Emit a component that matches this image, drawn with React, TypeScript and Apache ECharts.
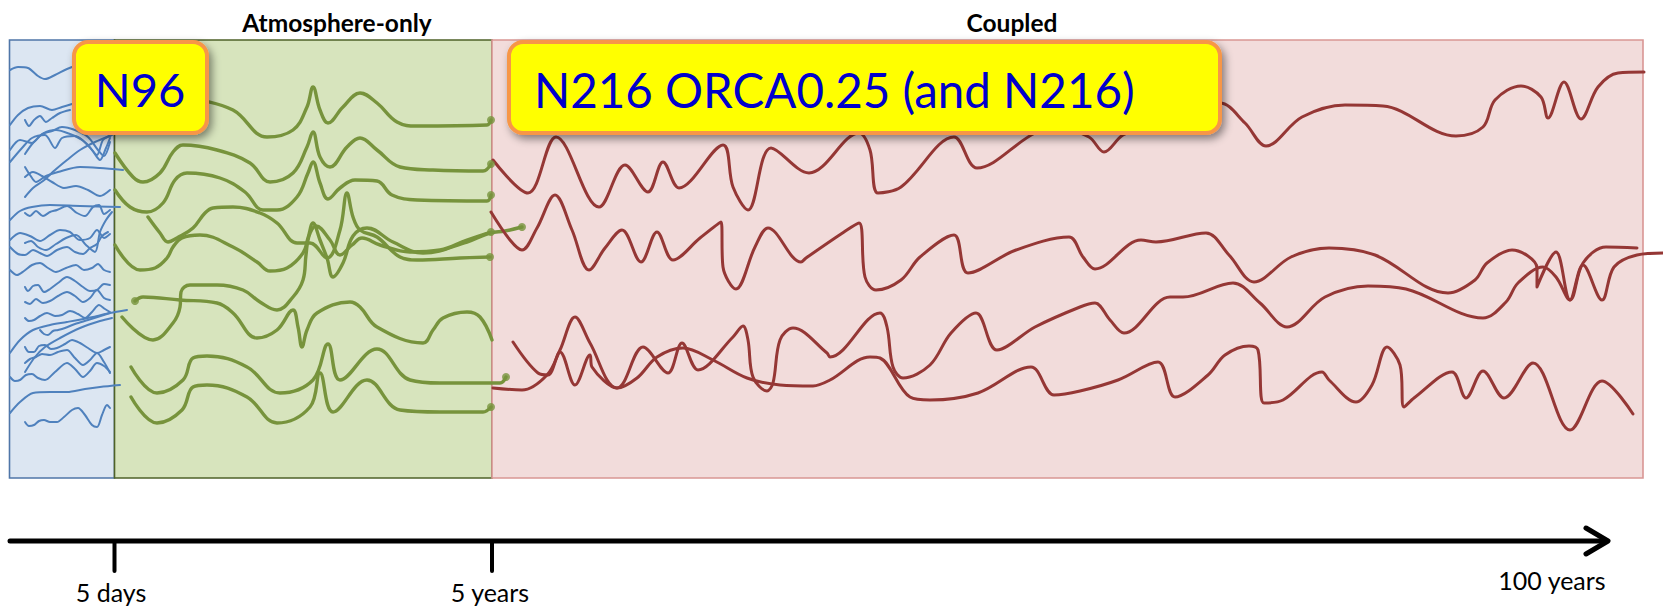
import React, { useEffect, useRef } from "react";
import * as echarts from "echarts";

const W = 1663;
const H = 610;

// Phase boundaries along the (schematic) time axis, in drawing units
const phaseEdges = [9.5, 114.5, 492, 1643];
const phaseTitles = ["Atmosphere-only", "Coupled"];
const timeTickLabels = ["5 days", "5 years", "100 years"];
const calloutLabels = ["N96", "N216 ORCA0.25 (and N216)"];

// Short-range (blue) trajectories
const blueLines: number[][][] = [
  [[10,70],[18,67],[28,68],[38,76],[45,79],[55,75],[67,69],[78,65]],
  [[10,125],[18,115],[28,108],[40,106],[52,110],[62,107],[72,104]],
  [[25,120],[29,126],[34,120],[40,116],[46,122],[52,118],[60,113],[70,110]],
  [[10,150],[20,140],[32,143],[42,134],[52,131],[62,127],[75,130],[88,137],[98,150],[104,156],[110,142]],
  [[10,162],[22,148],[32,138],[45,135],[55,148],[62,138],[75,136],[88,145],[97,155],[103,140],[112,135]],
  [[25,154],[33,143],[44,133],[56,130],[70,134],[82,140],[92,150],[100,160],[106,148],[110,138]],
  [[25,167],[30,175],[36,182],[46,176],[58,172],[80,167],[100,168],[123,170]],
  [[25,177],[33,172],[42,176],[52,182],[64,188],[76,186],[88,190],[100,196],[110,190]],
  [[25,197],[33,188],[43,181],[55,170],[67,160],[80,150],[95,142],[110,136]],
  [[10,220],[20,211],[32,207],[50,205],[80,206],[120,207]],
  [[25,213],[30,216],[36,211],[43,216],[50,212],[57,210],[67,206],[77,213],[85,216],[93,207],[99,205],[104,214],[110,210]],
  [[10,240],[20,233],[30,236],[40,241],[50,235],[60,230],[70,232],[80,240],[90,238],[97,230],[104,238],[110,234]],
  [[25,243],[31,241],[38,247],[46,250],[56,244],[66,238],[76,235],[86,245],[95,252],[100,232],[106,220],[112,212]],
  [[10,247],[18,254],[25,255],[33,250],[40,253],[47,256],[57,250],[67,247],[75,252],[83,254],[90,248],[97,244],[102,236],[108,232]],
  [[10,270],[17,275],[24,271],[32,265],[40,263],[48,268],[56,272],[66,268],[76,265],[84,270],[92,268],[98,264],[104,270],[110,272]],
  [[25,287],[28,291],[33,286],[38,285],[44,292],[50,289],[58,283],[67,277],[75,281],[83,287],[90,291],[97,290],[104,284],[110,285]],
  [[25,302],[30,304],[36,299],[43,303],[50,301],[58,296],[67,292],[75,296],[83,302],[90,298],[97,290],[104,298],[110,300]],
  [[25,318],[29,321],[34,320],[40,316],[47,313],[55,316],[62,315],[70,311],[78,314],[85,318],[92,312],[99,305],[105,309],[110,312]],
  [[10,353],[20,340],[33,330],[50,325],[67,322],[93,317],[110,313],[127,310]],
  [[40,330],[44,334],[48,335],[53,331],[58,330],[65,328],[75,324],[88,320],[110,313]],
  [[25,372],[35,357],[45,347],[60,338],[80,328],[100,321],[112,318]],
  [[25,347],[29,352],[34,352],[39,346],[45,345],[51,349],[57,348],[65,344],[72,340],[80,343],[88,348],[97,353],[104,350],[110,347]],
  [[25,363],[30,359],[36,357],[42,354],[50,355],[58,352],[67,350],[75,358],[83,365],[90,360],[97,353],[104,362],[110,373]],
  [[10,377],[15,381],[20,380],[26,375],[32,374],[38,378],[45,380],[55,372],[67,363],[75,369],[83,377],[90,371],[97,363],[104,366],[110,372]],
  [[10,413],[20,402],[33,393],[50,392],[67,392],[85,389],[100,387],[120,385]],
  [[25,422],[29,426],[34,425],[39,421],[44,420],[50,422],[57,422],[64,417],[72,410],[78,408],[85,415],[92,425],[97,427],[102,415],[107,405],[110,408]],
];

// Atmosphere-only (green) trajectories
const greenLines: number[][][] = [
  [[195,99],[233,110],[267,137],[293,130],[307,107],[313,87],[320,110],[328,123],[343,107],[360,93],[377,103],[397,122],[417,126],[487,125],[491,120]],
  [[115,153],[133,177],[143,182],[160,173],[173,152],[183,145],[217,150],[250,163],[270,182],[293,173],[307,147],[313,132],[320,157],[330,167],[347,147],[360,138],[377,150],[400,167],[433,170],[483,171],[491,164]],
  [[115,190],[130,207],[147,212],[163,203],[175,180],[187,173],[220,178],[245,192],[263,210],[277,210],[297,197],[308,173],[313,162],[320,183],[328,199],[340,188],[355,180],[377,181],[392,195],[417,200],[487,201],[491,195]],
  [[115,245],[140,270],[155,268],[167,258],[173,247],[182,238],[200,235],[233,247],[257,262],[270,271],[287,268],[303,253],[308,238],[313,223],[320,240],[327,258],[333,277],[343,263],[353,236],[367,228],[393,242],[423,253],[467,242],[490,233],[505,231],[522,227]],
  [[148,217],[160,233],[168,242],[177,238],[193,228],[205,213],[213,208],[233,207],[260,213],[277,223],[297,243],[310,243],[327,258],[340,230],[347,193],[353,217],[360,230],[377,237],[400,257],[417,260],[460,258],[490,257]],
  [[122,317],[153,340],[173,323],[180,307],[181,292],[190,285],[217,285],[243,290],[260,302],[277,310],[293,297],[303,280],[306,255],[309,236],[316,226],[330,240],[340,255],[352,245],[362,238],[380,245],[410,252],[440,250],[467,240],[491,232]],
  [[135,301],[143,297],[180,300],[217,303],[233,313],[257,338],[277,330],[293,310],[298,327],[302,347],[307,330],[317,313],[350,302],[360,307],[377,327],[423,343],[433,330],[443,318],[467,312],[480,317],[492,340]],
  [[131,367],[157,393],[183,380],[193,358],[207,356],[247,367],[280,393],[313,380],[328,344],[340,380],[377,349],[410,380],[440,383],[500,383],[506,377]],
  [[131,397],[157,423],[182,410],[193,387],[207,385],[247,397],[277,423],[310,407],[320,373],[333,412],[367,380],[400,410],[440,412],[483,412],[491,407]],
];
// which end of each green trajectory carries a dot
const greenDotEnds = ["end", "end", "end", "end", "end", "end", "start", "end", "end"];

// Coupled (red) trajectories
const redLines: number[][][] = [
  [[493,160],[528,193],[556,137],[599,207],[625,165],[648,192],[663,162],[679,188],[723,145],[733,187],[748,210],[771,148],[809,173],[859,133],[870,150],[878,193],[901,187],[954,137],[977,168],[1035,133],[1060,128],[1089,137],[1104,152],[1123,135],[1160,120],[1200,105],[1220,103],[1245,123],[1266,146],[1302,117],[1345,105],[1383,106],[1456,136],[1483,127],[1495,100],[1521,86],[1541,97],[1548,118],[1564,82],[1581,119],[1598,87],[1618,73],[1644,72]],
  [[491,212],[510,240],[522,250],[537,228],[555,195],[572,230],[589,270],[605,248],[622,230],[641,262],[657,232],[673,260],[700,238],[721,222],[723,267],[736,289],[755,247],[768,228],[801,262],[806,258],[844,232],[859,223],[865,277],[876,290],[901,280],[920,257],[954,235],[968,273],[1016,250],[1069,237],[1083,257],[1095,269],[1141,240],[1156,242],[1206,233],[1229,255],[1254,282],[1291,257],[1329,248],[1375,255],[1448,293],[1475,280],[1487,263],[1512,250],[1537,268],[1537,287],[1556,252],[1570,300],[1583,265],[1602,300],[1614,267],[1637,255],[1663,253]],
  [[513,342],[538,373],[548,375],[560,352],[575,385],[590,355],[592,367],[617,388],[643,347],[668,373],[682,343],[698,370],[733,337],[743,326],[748,340],[753,377],[767,391],[773,383],[780,340],[793,328],[827,353],[830,357],[880,313],[887,327],[893,367],[903,378],[930,365],[951,333],[976,313],[997,350],[1035,327],[1080,307],[1095,303],[1110,320],[1124,333],[1170,297],[1183,297],[1233,283],[1260,303],[1287,327],[1325,297],[1368,286],[1406,289],[1483,318],[1506,302],[1518,283],[1543,267],[1556,277],[1570,300],[1583,263],[1606,247],[1637,248]],
  [[493,388],[522,390],[547,375],[560,350],[575,317],[590,343],[617,388],[637,378],[657,357],[683,348],[713,360],[747,378],[780,385],[813,386],[830,380],[870,357],[880,358],[910,397],[930,400],[978,393],[1031,367],[1054,395],[1080,391],[1118,380],[1158,362],[1175,397],[1208,375],[1225,355],[1249,346],[1258,350],[1264,403],[1283,400],[1322,372],[1329,380],[1356,402],[1372,385],[1387,347],[1400,365],[1404,407],[1414,398],[1452,372],[1466,398],[1483,371],[1504,398],[1533,363],[1570,430],[1602,381],[1633,414]],
];

const BOX_TOP = 40;
const BOX_BOTTOM = 478;
const AXIS_Y = 541;
const AXIS_START = 10;
const AXIS_TIP = 1608;

const boxFills = ["#DCE6F2", "#D7E4BD", "#F2DCDB"];
const boxStrokes = ["#4F76A8", "#4F6228", "#D99694"];
const BLUE = "#4F81BD";
const GREEN = "#77933C";
const RED = "#953735";

export default function App() {
  const ref = useRef<HTMLDivElement>(null);
  useEffect(() => {
    if (!ref.current) return;
    const chart = echarts.init(ref.current, null, { renderer: "svg" });

    const lineSeries = (data: number[][], color: string, width: number, z: number, smooth = 0.4) => ({
      type: "line",
      data,
      smooth,
      symbol: "none",
      showSymbol: false,
      silent: true,
      z,
      lineStyle: { color, width, cap: "round", join: "round" },
    });

    const dots = greenLines.map((l, i) =>
      greenDotEnds[i] === "start" ? l[0] : l[l.length - 1]
    );

    const boxData = [0, 1, 2].map((i) => [phaseEdges[i], phaseEdges[i + 1]]);

    const series: any[] = [
      {
        type: "custom",
        silent: true,
        z: 1,
        data: boxData,
        renderItem: (params: any, api: any) => {
          const p0 = api.coord([api.value(0), BOX_TOP]);
          const p1 = api.coord([api.value(1), BOX_BOTTOM]);
          const i = params.dataIndex;
          return {
            type: "rect",
            shape: { x: p0[0], y: p0[1], width: p1[0] - p0[0], height: p1[1] - p0[1] },
            style: { fill: boxFills[i], stroke: boxStrokes[i], lineWidth: 1.6 },
          };
        },
      },
      ...blueLines.map((l) => lineSeries(l, BLUE, 2, 2, 0.3)),
      ...greenLines.map((l) => lineSeries(l, GREEN, 3.4, 3, 0.4)),
      ...redLines.map((l) => lineSeries(l, RED, 3, 3, 0.35)),
      {
        type: "scatter",
        data: dots,
        symbolSize: 8,
        silent: true,
        z: 4,
        itemStyle: { color: GREEN },
      },
      // time axis
      lineSeries([[AXIS_START, AXIS_Y], [AXIS_TIP - 3, AXIS_Y]], "#000", 5, 5, 0),
      lineSeries([[AXIS_TIP - 22, AXIS_Y - 13], [AXIS_TIP, AXIS_Y], [AXIS_TIP - 22, AXIS_Y + 13]], "#000", 5, 5, 0),
      lineSeries([[phaseEdges[1], AXIS_Y], [phaseEdges[1], AXIS_Y + 30]], "#000", 4, 5, 0),
      lineSeries([[phaseEdges[2], AXIS_Y], [phaseEdges[2], AXIS_Y + 30]], "#000", 4, 5, 0),
    ];

    chart.setOption({
      animation: false,
      grid: { left: 0, right: 0, top: 0, bottom: 0 },
      xAxis: { type: "value", min: 0, max: W, show: false },
      yAxis: { type: "value", min: 0, max: H, inverse: true, show: false },
      series,
    });

    const px = (x: number, y: number) => chart.convertToPixel({ gridIndex: 0 }, [x, y]) as number[];

    const txt = (x: number, y: number, text: string, font: string, fill: string, align = "center") => {
      const p = px(x, y);
      return {
        type: "text",
        x: p[0],
        y: p[1],
        z: 110,
        silent: true,
        style: {
          text,
          font,
          fill,
          align,
          verticalAlign: "middle",
          textAlign: align,
          textVerticalAlign: "middle",
        },
      };
    };

    const callout = (x0: number, y0: number, x1: number, y1: number) => {
      const a = px(x0, y0);
      const b = px(x1, y1);
      return {
        type: "rect",
        z: 100,
        silent: true,
        shape: { x: a[0], y: a[1], width: b[0] - a[0], height: b[1] - a[1], r: 14 },
        style: {
          fill: "#FFFF00",
          stroke: "#F79646",
          lineWidth: 4,
          shadowBlur: 8,
          shadowOffsetX: 3,
          shadowOffsetY: 4,
          shadowColor: "rgba(0,0,0,0.45)",
        },
      };
    };

    chart.setOption({
      graphic: [
        txt(337, 22, phaseTitles[0], "bold 24.5px Lato", "#000"),
        txt(1012, 22, phaseTitles[1], "bold 24.5px Lato", "#000"),
        callout(74, 42, 207, 133),
        txt(140, 89, calloutLabels[0], "47px Lato", "#0000CC"),
        callout(509, 42, 1220, 133),
        txt(534, 89, calloutLabels[1], "47.5px Lato", "#0000CC", "left"),
        txt(111, 592, timeTickLabels[0], "25px Lato", "#000"),
        txt(490, 592, timeTickLabels[1], "25px Lato", "#000"),
        txt(1552, 580, timeTickLabels[2], "25px Lato", "#000"),
      ],
    });

    return () => chart.dispose();
  }, []);

  return (
    <div
      ref={ref}
      style={{ position: "fixed", left: 0, top: 0, width: W, height: H, background: "#fff" }}
    />
  );
}
